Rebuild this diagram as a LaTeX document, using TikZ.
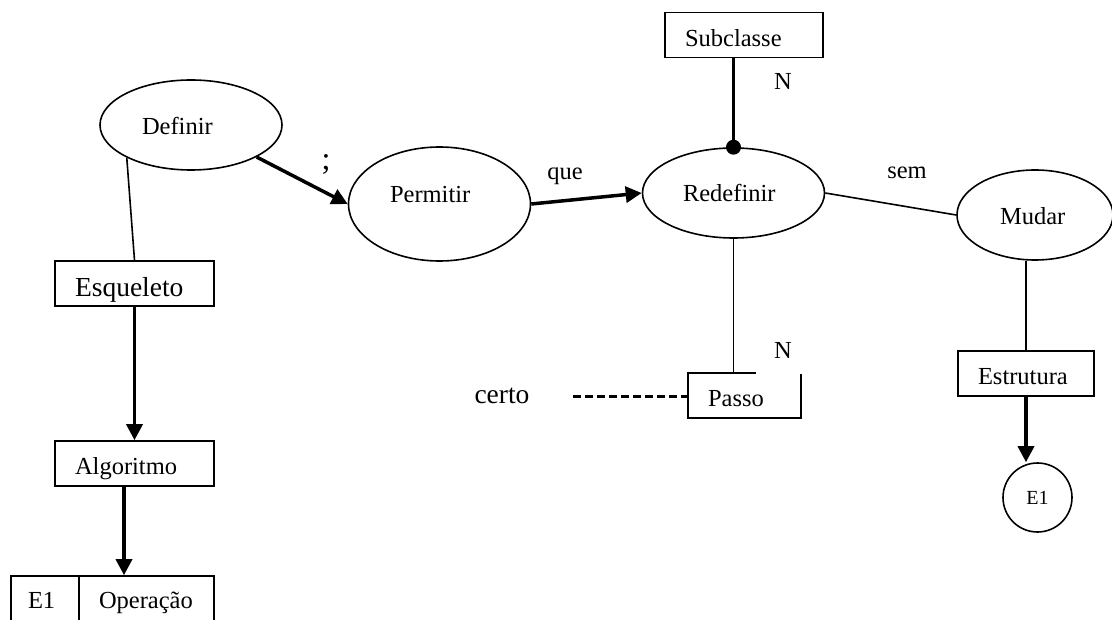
\documentclass[tikz,border=0pt]{standalone}
\usepackage{fontspec}
\setmainfont{Liberation Serif}
\usetikzlibrary{shapes.geometric,arrows.meta}
\begin{document}
\begin{tikzpicture}[x=1pt,y=-1pt,
  every node/.style={font=\fontsize{24.5}{28}\selectfont},
  big/.style={font=\fontsize{27.5}{32}\selectfont},
  ell/.style={ellipse,draw,line width=1.6pt,inner sep=0pt,align=left,text height=28pt,text depth=8pt,minimum width=182pt,minimum height=90pt},
  box/.style={rectangle,draw,line width=1.6pt,inner xsep=20pt,inner ysep=0pt,align=left,text height=31pt,text depth=8pt,minimum height=45pt},
  thinline/.style={line width=1.6pt},
  arr/.style={line width=3.5pt,-{Triangle[length=16pt,width=16pt]}},
  dashline/.style={line width=3pt,dash pattern=on 8pt off 4pt},
  lbl/.style={anchor=base,inner sep=0pt}
]
\useasboundingbox (0,0) rectangle (1112,620);

% ellipses
\node[ell,text width=98pt] (def) at (191,125) {Definir};
\node[ell,text width=99pt,minimum height=114pt,text height=14pt,text depth=16pt] (perm) at (439.5,204) {Permitir};
\node[ell,text width=101pt,text height=26pt] (red) at (733.5,193) {Redefinir};
\node[ell,text width=70pt,minimum width=156pt] (mud) at (1035,215) {Mudar};

% boxes
\node[box,text width=118pt] (sub) at (744,35) {Subclasse};
\node[box,big,text width=119pt,text height=33pt,text depth=6pt] (esq) at (134.5,283.5) {Esqueleto};
\node[box,text width=119pt] (alg) at (134.5,463.5) {Algoritmo};
\node[box,text width=73pt] (passo) at (744.5,395.5) {Passo};
\node[box,text width=96pt] (est) at (1026,373.5) {Estrutura};
\node[box,text width=34pt,inner xsep=17pt,minimum height=56pt,text height=20pt,text depth=12pt] (e1a) at (45,604) {E1};
\node[box,text width=95pt,minimum height=56pt,text height=20pt,text depth=12pt] (op) at (146.5,604) {Operação};
\node[circle,draw,line width=1.6pt,minimum size=69pt,inner sep=0pt,font=\fontsize{20}{24}\selectfont] (e1b) at (1037.5,497.5) {E1};

% labels
\node[lbl,font=\fontsize{32}{36}\selectfont] (semi) at (326,170) {;};
\node[lbl] (que) at (565,180) {que};
\node[lbl] (sem) at (907,179) {sem};
\node[lbl] (n1) at (783,90) {N};
\node[lbl,big] (certo) at (502,403) {certo};

% connectors
\draw[thinline] (def.207) -- (esq.north);
\draw[arr] (esq.south) -- (alg.north);
\draw[arr] ([xshift=-10.5pt]alg.south) -- ([xshift=-10.5pt]alg.south |- op.north);
\draw[arr] (def.-26) -- (perm.west);
\draw[arr] (perm.east) -- (red.west);
\draw[thinline] (red.east) -- (mud.west);
\draw[line width=3pt] (sub.south -| red.north) -- (red.north);
\fill (red.north) circle (7.5pt);
\draw[thinline] (red.south) -- (red.south |- passo.north);
\coordinate (cstart) at (573,397);
\draw[dashline] (cstart) -- (cstart -| passo.west);
\draw[thinline] (est.north |- mud.south) -- (est.north);
\draw[arr] (est.south) -- (est.south |- e1b.north);

\node[anchor=base,fill=white,inner xsep=0pt,inner ysep=0pt,text depth=15pt,minimum width=54pt] (n2) at (783,359) {N};
\end{tikzpicture}
\end{document}
